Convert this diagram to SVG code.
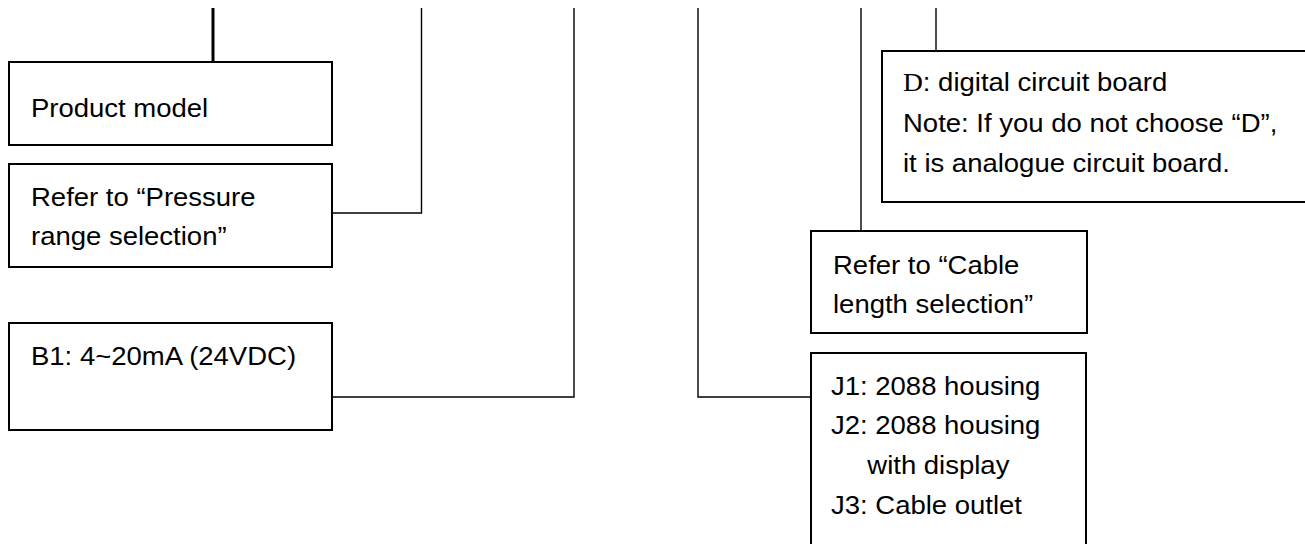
<svg xmlns="http://www.w3.org/2000/svg" width="1305" height="544" viewBox="0 0 1305 544">
<style>
.box{fill:#fff;stroke:#000;stroke-width:2}
.ln{fill:none;stroke:#000;stroke-width:1.4}
.t{font-family:"Liberation Sans",Arial,sans-serif;font-size:25px;fill:#000}
.s{font-family:"Liberation Serif","Times New Roman",serif}
</style>
<rect width="1305" height="544" fill="#fff"/>
<g id="connectors">
<line x1="213" y1="8" x2="213" y2="62" stroke="#000" stroke-width="3"/>
<polyline class="ln" points="421.5,8 421.5,213 331,213"/>
<polyline class="ln" points="574,8 574,397 331,397"/>
<polyline class="ln" points="698,8 698,397 811,397"/>
<line class="ln" x1="861" y1="8" x2="861" y2="231"/>
<line class="ln" x1="936" y1="8" x2="936" y2="51"/>
</g>
<g id="product-model">
<rect class="box" x="9" y="62" width="323" height="83"/>
<text class="t" transform="translate(31 117) scale(1.1 1)">Product model</text>
</g>
<g id="pressure-range">
<rect class="box" x="9" y="164" width="323" height="103"/>
<text class="t" transform="translate(31 206) scale(1.1 1)"><tspan x="0" y="0">Refer to “Pressure</tspan><tspan x="0" y="39">range selection”</tspan></text>
</g>
<g id="output-signal">
<rect class="box" x="9" y="323" width="323" height="107"/>
<text class="t" transform="translate(31 365) scale(1.1 1)">B1: 4~20mA (24VDC)</text>
</g>
<g id="circuit-board">
<rect class="box" x="882" y="51" width="460" height="151"/>
<text class="t" transform="translate(903 91) scale(1.1 1)"><tspan x="0" y="0"><tspan class="s">D</tspan>: digital circuit board</tspan><tspan x="0" y="41">Note: If you do not choose “D”,</tspan><tspan x="0" y="81">it is analogue circuit board.</tspan></text>
</g>
<g id="cable-length">
<rect class="box" x="811" y="231" width="276" height="102"/>
<text class="t" transform="translate(833 274) scale(1.1 1)"><tspan x="0" y="0">Refer to “Cable</tspan><tspan x="0" y="39">length selection”</tspan></text>
</g>
<g id="housing">
<rect class="box" x="811" y="353" width="275" height="210"/>
<text class="t" transform="translate(831 395) scale(1.1 1)"><tspan x="0" y="0">J1: 2088 housing</tspan><tspan x="0" y="39">J2: 2088 housing</tspan><tspan x="33" y="79">with display</tspan><tspan x="0" y="119">J3: Cable outlet</tspan></text>
</g>
</svg>
